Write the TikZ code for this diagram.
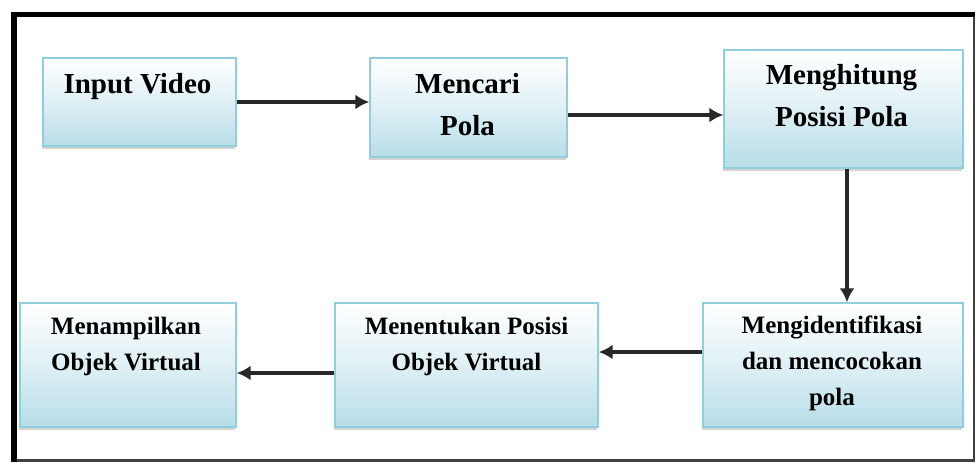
\documentclass[tikz,border=0pt]{standalone}
\usepackage{fontspec}
\setmainfont{Liberation Serif}
\usetikzlibrary{arrows.meta,shadows,calc}
\definecolor{boxblue}{RGB}{183,221,232}
\definecolor{boxedge}{RGB}{146,205,220}
\definecolor{arrowcol}{RGB}{40,40,40}
\tikzset{
  box/.style={rectangle, inner sep=0pt, draw=boxedge, line width=1.4pt,
    top color=white, bottom color=boxblue, middle color=boxblue!45,
    drop shadow={shadow xshift=-1.5pt, shadow yshift=-3pt, opacity=0.35, fill=gray}},
  toplbl/.style={anchor=base, align=center, inner sep=0pt,
    font=\fontsize{29}{42}\selectfont\bfseries},
  botlbl/.style={anchor=base, align=center, inner sep=0pt,
    font=\fontsize{25}{36}\selectfont\bfseries},
  flow/.style={draw=arrowcol, line width=4pt,
    -{Latex[length=14pt,width=15pt]}},
  frameheavy/.style={draw=black, line width=5.5pt},
  framelight/.style={draw=black!75, line width=2.5pt}
}
\begin{document}
\begin{tikzpicture}[x=1pt,y=-1pt]
\useasboundingbox (0,0) rectangle (977,464);
% frame
\draw[framelight] (14,460.5) -- (974,460.5) -- (974,14.5);
\draw[frameheavy] (14,462) -- (14,14.5) -- (975,14.5);
% boxes
\node[box, minimum width=193pt, minimum height=88pt]  (b1) at (139.5,102) {};
\node[box, minimum width=197pt, minimum height=99pt]  (b2) at (468.5,107.5) {};
\node[box, minimum width=239pt, minimum height=118pt] (b3) at (843.5,109) {};
\node[box, minimum width=216pt, minimum height=124pt] (b4) at (128,365) {};
\node[box, minimum width=263pt, minimum height=124pt] (b5) at (466.5,365) {};
\node[box, minimum width=260pt, minimum height=124pt] (b6) at (833,365) {};
% labels (anchor=base is the baseline of the last line)
\node[toplbl] (t1) at ($(b1.north)+(-2,36)$) {Input Video};
\node[toplbl] (t2) at ($(b2.north)+(-1,78)$) {Mencari\\Pola};
\node[toplbl] (t3) at ($(b3.north)+(-2,77)$) {Menghitung\\Posisi Pola};
\node[botlbl] (t4) at ($(b4.north)+(-2,68)$) {Menampilkan\\Objek Virtual};
\node[botlbl] (t5) at ($(b5.north)+(0,68)$) {Menentukan Posisi\\Objek Virtual};
\node[botlbl] (t6) at ($(b6.north)+(-1,103)$) {Mengidentifikasi\\dan mencocokan\\pola};
% connectors
\draw[flow] (b1.east |- 0,102) -- (b2.west |- 0,102);
\draw[flow] (b2.east |- 0,115) -- (b3.west |- 0,115);
\draw[flow] (b3.south -| 847,0) -- (b6.north -| 847,0);
\draw[flow] (b6.west |- 0,352) -- (b5.east |- 0,352);
\draw[flow] (b5.west |- 0,373) -- (b4.east |- 0,373);
\end{tikzpicture}
\end{document}
